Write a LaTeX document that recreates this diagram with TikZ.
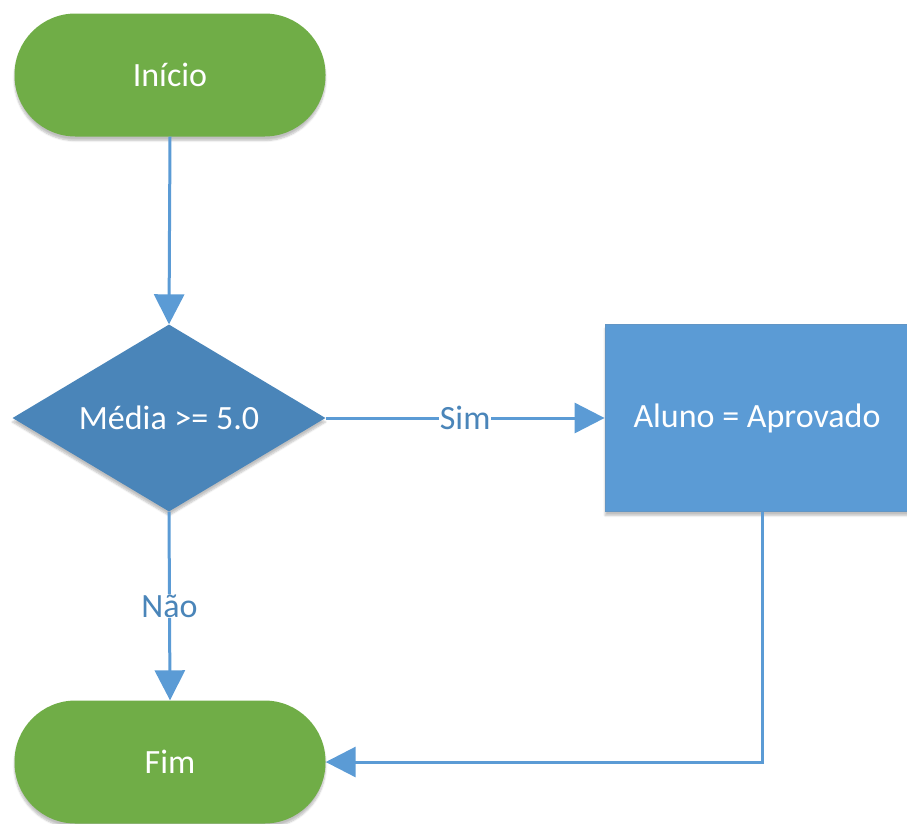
\documentclass[tikz,border=0pt]{standalone}
\usepackage{fontspec}
\setmainfont{Carlito}
\usetikzlibrary{shapes.geometric,arrows.meta,shadows.blur}
\definecolor{termgreen}{HTML}{70AD47}
\definecolor{decblue}{HTML}{4A85B9}
\definecolor{procblue}{HTML}{5B9BD5}
\definecolor{lineblue}{HTML}{5B9BD5}
\definecolor{labblue}{HTML}{4A85B9}
\tikzset{
  txt/.style={font=\fontsize{34}{40}\selectfont, text=white},
  term/.style={txt, rectangle, rounded corners=61pt, fill=termgreen, minimum width=311pt, minimum height=123pt, inner sep=0pt,
    blur shadow={shadow xshift=0pt, shadow yshift=-4pt, shadow blur steps=6, shadow opacity=25}},
  decision/.style={txt, diamond, fill=decblue, minimum width=313pt, minimum height=187pt, aspect=1.67, inner sep=0pt,
    blur shadow={shadow xshift=0pt, shadow yshift=-4pt, shadow blur steps=6, shadow opacity=25}},
  process/.style={txt, rectangle, fill=procblue, draw=procblue!80!gray, line width=0.8pt, minimum width=310pt, minimum height=187pt, inner sep=0pt,
    blur shadow={shadow xshift=0pt, shadow yshift=-4pt, shadow blur steps=6, shadow opacity=25}},
  conn/.style={draw=lineblue, line width=3pt, -{Triangle[length=30pt,width=30pt]}},
  edgelab/.style={font=\fontsize{34}{40}\selectfont, text=labblue, fill=white, inner sep=1pt}
}
\begin{document}
\begin{tikzpicture}[x=1pt,y=-1pt]
\useasboundingbox (0,0) rectangle (907,823);
\node[term] (ini) at (170,75) {Início};
\node[decision] (dec) at (169,418) {Média >= 5.0};
\node[process] (apr) at (760,418) {\hspace*{-6pt}Aluno = Aprovado\hspace*{0pt}};
\node[term] (fim) at (170,762) {Fim};
\coordinate (corner) at (762,762);
\draw[conn] (ini.south) -- (dec.north);
\draw[conn] (dec.east) -- node[edgelab] {Sim} (apr.west);
\draw[conn] (dec.south) -- node[edgelab, pos=0.5] {Não} (fim.north);
\draw[conn] (apr.south -| corner) -- (corner) -- (fim.east);
\end{tikzpicture}
\end{document}
